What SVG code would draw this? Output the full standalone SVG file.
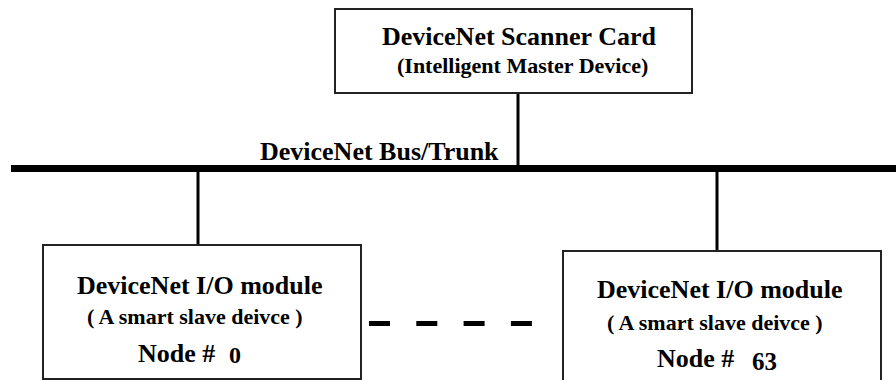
<svg xmlns="http://www.w3.org/2000/svg" width="896" height="380" viewBox="0 0 896 380">
<style>
.box{fill:#fff;stroke:#222;stroke-width:2}
.t{font-family:"Liberation Serif","Times New Roman",serif;font-weight:bold;fill:#000}
.big{font-size:26px}
.mid{font-size:22px}
.wire{stroke:#000;stroke-width:3;fill:none}
</style>
<rect width="896" height="380" fill="#fff"/>
<g id="connectors">
<line class="wire" x1="11" y1="168.5" x2="896" y2="168.5" style="stroke-width:7"/>
<line class="wire" x1="518" y1="93" x2="518" y2="166"/>
<line class="wire" x1="198" y1="170" x2="198" y2="245"/>
<line class="wire" x1="717" y1="170" x2="717" y2="251"/>
<line x1="369" y1="323.5" x2="533" y2="323.5" stroke="#000" stroke-width="5" stroke-dasharray="21 26.3"/>
</g>
<g id="scanner">
<rect class="box" x="335" y="9" width="357" height="84"/>
<text class="t big" x="382" y="45">DeviceNet Scanner Card</text>
<text class="t mid" x="397" y="73">(Intelligent Master Device)</text>
</g>
<g id="bus-label">
<text class="t big" x="260" y="160">DeviceNet Bus/Trunk</text>
</g>
<g id="node0">
<rect class="box" x="43" y="245" width="318" height="134"/>
<text class="t big" x="77" y="294">DeviceNet I/O module</text>
<text class="t mid" x="87" y="324">( A smart slave deivce )</text>
<text class="t big" x="138" y="362">Node # <tspan x="229" y="363" font-size="24">0</tspan></text>
</g>
<g id="node63">
<rect class="box" x="563" y="251" width="318" height="140"/>
<text class="t big" x="597" y="298">DeviceNet I/O module</text>
<text class="t mid" x="607" y="330">( A smart slave deivce )</text>
<text class="t big" x="657" y="367">Node # <tspan x="752" y="370" font-size="25">63</tspan></text>
</g>
</svg>
